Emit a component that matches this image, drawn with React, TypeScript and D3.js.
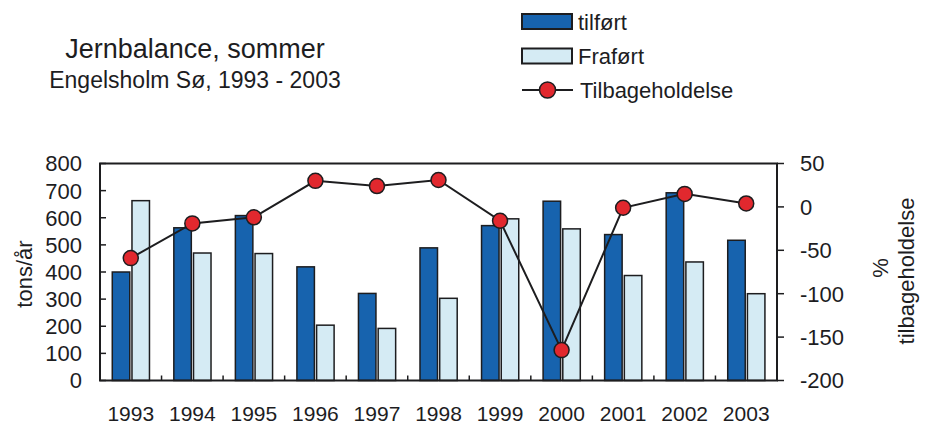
import React from "react";
import * as d3 from "d3";

const years = ["1993","1994","1995","1996","1997","1998","1999","2000","2001","2002","2003"];
const tilfoert = [400, 563, 608, 419, 321, 489, 571, 661, 538, 692, 517];
const frafoert = [663, 470, 468, 204, 192, 303, 596, 559, 387, 437, 320];
const tilbage = [-59, -19, -12, 30, 24, 31, -16, -165, -1, 15, 4];
const leftTicks = [0, 100, 200, 300, 400, 500, 600, 700, 800];
const rightTicks = [50, 0, -50, -100, -150, -200];

const DARK = "#1763ae";
const LIGHT = "#d5ebf4";
const RED = "#e1282e";
const INK = "#1d1d1f";
const FONT = "'Liberation Sans', Arial, sans-serif";

export default function App() {
  const W = 933, H = 427;
  const L = 100, R = 777, T = 163.5, B = 380.5;
  const x = d3.scaleBand<string>().domain(years).range([L, R]).padding(0);
  const yL = d3.scaleLinear().domain([0, 800]).range([B, T]);
  const yR = d3.scaleLinear().domain([-200, 50]).range([B, T]);
  const cx = (y: string) => (x(y) as number) + x.bandwidth() / 2;
  const line = d3.line<number>().x((_, i) => cx(years[i])).y((d) => yR(d));
  const bw = 17.5;

  return (
    <svg width={W} height={H} style={{ position: "absolute", left: 0, top: 0, background: "#fff" }} fontFamily={FONT}>
      <rect width={W} height={H} fill="#fff" />
      {/* Titles */}
      <text x={195} y={58} textAnchor="middle" fontSize={27} fill={INK}>Jernbalance, sommer</text>
      <text x={195} y={88} textAnchor="middle" fontSize={23} fill={INK}>Engelsholm Sø, 1993 - 2003</text>

      {/* Legend */}
      <rect x={522} y={14} width={50} height={15} fill={DARK} stroke={INK} strokeWidth={2} />
      <text x={578} y={29.5} fontSize={22} fill={INK}>tilført</text>
      <rect x={522} y={48.5} width={50} height={15} fill={LIGHT} stroke={INK} strokeWidth={2} />
      <text x={578} y={63.5} fontSize={22} fill={INK}>Fraført</text>
      <line x1={522} x2={573} y1={90} y2={90} stroke={INK} strokeWidth={2} />
      <circle cx={547.5} cy={90} r={8} fill={RED} stroke={INK} strokeWidth={1.5} />
      <text x={580} y={98} fontSize={22} fill={INK}>Tilbageholdelse</text>

      {/* Bars */}
      {years.map((yr, i) => (
        <g key={yr}>
          <rect x={cx(yr) - 18.5} y={yL(tilfoert[i])} width={bw} height={B - yL(tilfoert[i])} fill={DARK} stroke={INK} strokeWidth={1.5} />
          <rect x={cx(yr) + 1.2} y={yL(frafoert[i])} width={bw} height={B - yL(frafoert[i])} fill={LIGHT} stroke={INK} strokeWidth={1.5} />
        </g>
      ))}

      {/* Frame */}
      <rect x={L} y={T} width={R - L} height={B - T} fill="none" stroke={INK} strokeWidth={2} />

      {/* Left axis */}
      {leftTicks.map((t) => (
        <g key={"l" + t}>
          <line x1={L} x2={L + 6} y1={yL(t)} y2={yL(t)} stroke={INK} strokeWidth={1.5} />
          <text x={82} y={yL(t)} dy="0.36em" textAnchor="end" fontSize={22} fill={INK}>{t}</text>
        </g>
      ))}
      {/* Right axis */}
      {rightTicks.map((t) => (
        <g key={"r" + t}>
          <line x1={R} x2={R + 7} y1={yR(t)} y2={yR(t)} stroke={INK} strokeWidth={1.5} />
          <text x={800} y={yR(t)} dy="0.36em" textAnchor="start" fontSize={22} fill={INK}>{t}</text>
        </g>
      ))}
      {/* Bottom ticks between categories */}
      {years.slice(1).map((yr) => (
        <line key={"b" + yr} x1={x(yr) as number} x2={x(yr) as number} y1={B} y2={B - 5} stroke={INK} strokeWidth={1.5} />
      ))}
      {years.map((yr) => (
        <text key={"t" + yr} x={cx(yr)} y={421} textAnchor="middle" fontSize={21} fill={INK}>{yr}</text>
      ))}

      {/* Axis titles */}
      <text transform="translate(32,274) rotate(-90)" textAnchor="middle" fontSize={22} fill={INK}>tons/år</text>
      <text transform="translate(888,268) rotate(-90)" textAnchor="middle" fontSize={22} fill={INK}>%</text>
      <text transform="translate(914,271) rotate(-90)" textAnchor="middle" fontSize={22} fill={INK}>tilbageholdelse</text>

      {/* Line */}
      <path d={line(tilbage) || ""} fill="none" stroke={INK} strokeWidth={2} />
      {tilbage.map((v, i) => (
        <circle key={"c" + i} cx={cx(years[i])} cy={yR(v)} r={7.5} fill={RED} stroke={INK} strokeWidth={1.5} />
      ))}
    </svg>
  );
}
